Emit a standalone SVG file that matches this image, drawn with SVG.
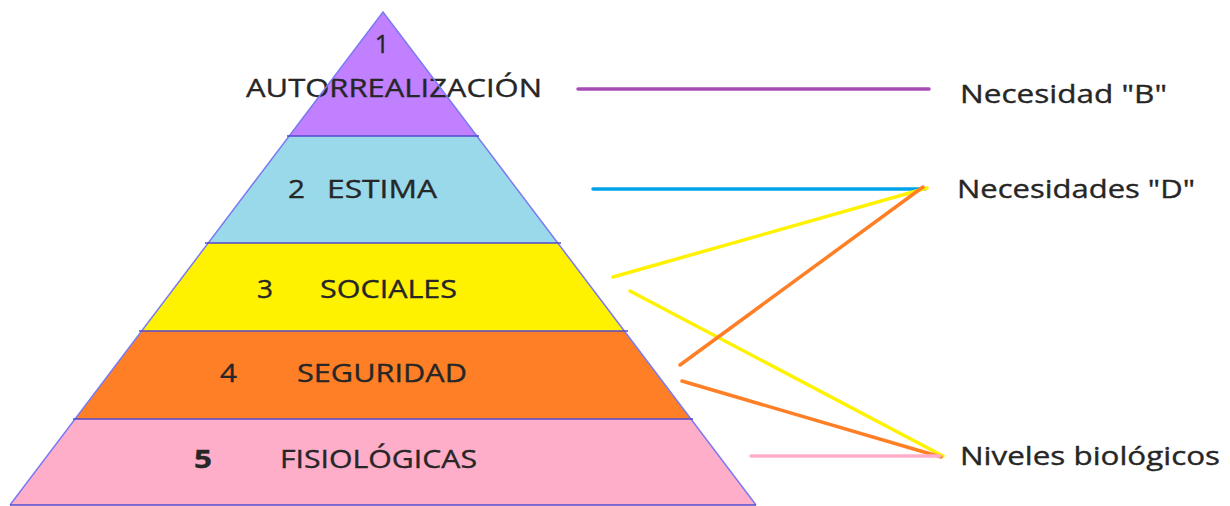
<svg xmlns="http://www.w3.org/2000/svg" width="1230" height="506" viewBox="0 0 1230 506">
<style>
.t{font-family:"Open Sans","Liberation Sans",sans-serif;font-size:25px;fill:#262626;stroke:#262626;stroke-width:0.35}
.b{font-weight:bold}
.edge{fill:none;stroke:#7a7af2;stroke-width:1.5}
.div{stroke:#5548cc;stroke-width:1.5}
.c{fill:none;stroke-width:3.5;stroke-linecap:round}
</style>
<rect width="1230" height="506" fill="#ffffff"/>
<g id="level1">
<polygon points="383,12 476.8,136 289.2,136" fill="#c080ff"/>
<text class="t" x="382" y="53" text-anchor="middle" font-size="26">1</text>
<text class="t" x="246" y="97" textLength="296" lengthAdjust="spacingAndGlyphs">AUTORREALIZACIÓN</text>
</g>
<g id="level2">
<polygon points="289.2,136 476.8,136 557.8,243 208.2,243" fill="#99d9ea"/>
<text class="t" x="288" y="198" textLength="17" lengthAdjust="spacingAndGlyphs">2</text>
<text class="t" x="327" y="198" textLength="110" lengthAdjust="spacingAndGlyphs">ESTIMA</text>
</g>
<g id="level3">
<polygon points="208.2,243 557.8,243 624.4,331 141.6,331" fill="#fff200"/>
<text class="t" x="257" y="298" textLength="16" lengthAdjust="spacingAndGlyphs">3</text>
<text class="t" x="320" y="298" textLength="137" lengthAdjust="spacingAndGlyphs">SOCIALES</text>
</g>
<g id="level4">
<polygon points="141.6,331 624.4,331 690.9,419 75.1,419" fill="#ff7f27"/>
<text class="t" x="220" y="382" textLength="17" lengthAdjust="spacingAndGlyphs">4</text>
<text class="t" x="297" y="382" textLength="170" lengthAdjust="spacingAndGlyphs">SEGURIDAD</text>
</g>
<g id="level5">
<polygon points="75.1,419 690.9,419 756,505 10,505" fill="#ffaec9"/>
<text class="t b" x="194" y="468" textLength="18" lengthAdjust="spacingAndGlyphs">5</text>
<text class="t" x="280" y="468" textLength="197" lengthAdjust="spacingAndGlyphs">FISIOLÓGICAS</text>
</g>
<g id="outline">
<polyline class="edge" points="10,505 383,12 756,505"/>
<line class="div" x1="287" y1="136" x2="479" y2="136"/>
<line class="div" x1="205" y1="243" x2="561" y2="243"/>
<line class="div" x1="139" y1="331" x2="628" y2="331"/>
<line class="div" x1="73" y1="419" x2="693" y2="419"/>
<line class="div" x1="10" y1="505" x2="756" y2="505"/>
</g>
<g id="connectors">
<line class="c" x1="578" y1="89" x2="929" y2="89" stroke="#a64cb5"/>
<line class="c" x1="593" y1="189" x2="925" y2="189" stroke="#00a2e8"/>
<line class="c" x1="613" y1="277" x2="927" y2="188" stroke="#fff200"/>
<line class="c" x1="630" y1="291" x2="943" y2="456" stroke="#fff200"/>
<line class="c" x1="680" y1="365" x2="923" y2="187" stroke="#ff7f27"/>
<line class="c" x1="682" y1="381" x2="941" y2="457" stroke="#ff7f27"/>
<line class="c" x1="751" y1="456" x2="940" y2="456" stroke="#ffaec9"/>
</g>
<g id="labels">
<text class="t" x="960" y="103" textLength="207" lengthAdjust="spacingAndGlyphs">Necesidad "B"</text>
<text class="t" x="957" y="198" textLength="238" lengthAdjust="spacingAndGlyphs">Necesidades "D"</text>
<text class="t" x="960" y="465" textLength="260" lengthAdjust="spacingAndGlyphs">Niveles biológicos</text>
</g>
</svg>
